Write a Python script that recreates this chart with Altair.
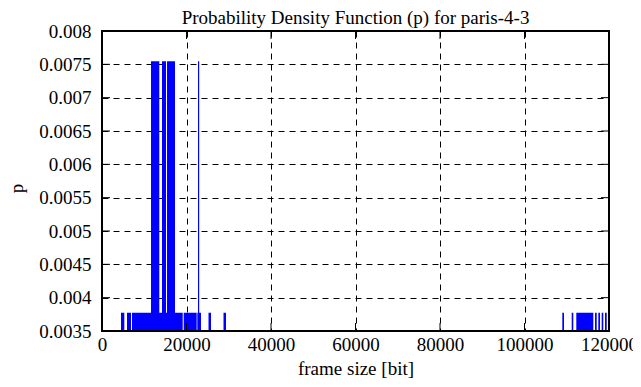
import altair as alt
import pandas as pd

# frame-size ranges (bits) covered by impulses
short_start = [4500, 5920, 7100, 19340, 22560, 25210, 28760,
               108950, 111170, 112260, 116690, 117470, 118270, 119050]
short_end = [5280, 6860, 19100, 22410, 23430, 25800, 29350,
             109350, 111550, 116290, 117090, 117870, 118650, 119460]
short_p = 0.003774

tall_start = [11600, 14200, 15390, 22720]
tall_end = [13560, 15150, 17280, 23000]
tall_p = 0.007547

x_ticks = [0, 20000, 40000, 60000, 80000, 100000, 120000]
y_ticks = [0.0035, 0.004, 0.0045, 0.005, 0.0055, 0.006, 0.0065, 0.007, 0.0075, 0.008]

rows = []
for s, e in zip(short_start, short_end):
    rows.append({"x": s, "x2": e, "p": short_p})
for s, e in zip(tall_start, tall_end):
    rows.append({"x": s, "x2": e, "p": tall_p})
df = pd.DataFrame(rows)

W, H = 507, 300
FONT = "Liberation Serif"
FS = 19

xscale = alt.Scale(domain=[0, 120000], nice=False, zero=False)
yscale = alt.Scale(domain=[0.0035, 0.008], nice=False, zero=False)

xaxis = alt.Axis(
    values=x_ticks, tickCount=30, format="d", title="frame size [bit]",
    grid=True, gridDash=[6, 5], gridColor="black", gridWidth=1, gridOpacity=1,
    domain=False, ticks=False, labelPadding=4, labelOverlap=False, labelFlush=False,
    labelFont=FONT, labelFontSize=FS, labelColor="black",
    titleFont=FONT, titleFontSize=FS, titleFontWeight="normal", titleColor="black",
    titlePadding=5)
yaxis = alt.Axis(
    values=y_ticks, tickCount=30, format="~g", title="p",
    grid=True, gridDash=[6, 5], gridColor="black", gridWidth=1, gridOpacity=1,
    domain=False, ticks=False, labelPadding=11, labelOverlap=False, labelFlush=False,
    labelFont=FONT, labelFontSize=FS, labelColor="black",
    titleFont=FONT, titleFontSize=FS, titleFontWeight="normal", titleColor="black",
    titleAngle=270, titleX=-86, titleY=157, titleBaseline="middle")

bars = alt.Chart(df).mark_rect(color="#0000ff").encode(
    x=alt.X("x:Q", scale=xscale, axis=xaxis),
    x2="x2:Q",
    y=alt.Y("p:Q", scale=yscale, axis=yaxis),
    y2=alt.datum(0.0035),
)

xt = pd.DataFrame({"v": x_ticks})
yt = pd.DataFrame({"v": y_ticks})
TL = 8
tick_bottom = alt.Chart(xt).mark_rule(color="black", strokeWidth=1).encode(
    x=alt.X("v:Q", scale=xscale, axis=xaxis), y=alt.value(H), y2=alt.value(H - TL))
tick_top = alt.Chart(xt).mark_rule(color="black", strokeWidth=1).encode(
    x=alt.X("v:Q", scale=xscale, axis=xaxis), y=alt.value(0), y2=alt.value(TL))
tick_left = alt.Chart(yt).mark_rule(color="black", strokeWidth=1).encode(
    y=alt.Y("v:Q", scale=yscale, axis=yaxis), x=alt.value(0), x2=alt.value(TL))
tick_right = alt.Chart(yt).mark_rule(color="black", strokeWidth=1).encode(
    y=alt.Y("v:Q", scale=yscale, axis=yaxis), x=alt.value(W), x2=alt.value(W - TL))

border = alt.Chart(pd.DataFrame({"a": [0]})).mark_rect(
    fill=None, stroke="black", strokeWidth=2, fillOpacity=0).encode(
    x=alt.value(0), x2=alt.value(W), y=alt.value(0), y2=alt.value(H))

chart = alt.layer(bars, tick_bottom, tick_top, tick_left, tick_right, border).properties(
    width=W, height=H,
    title=alt.TitleParams("Probability Density Function (p) for paris-4-3",
                          font=FONT, fontSize=FS, fontWeight="normal", color="black",
                          anchor="middle", offset=-6),
    autosize=alt.AutoSizeParams(type="none"),
    padding={"left": 94, "top": 23, "right": 24, "bottom": 56},
).configure_view(stroke=None).configure(background="white")

chart.save("out.html", embed_options={"renderer": "svg", "actions": False})
